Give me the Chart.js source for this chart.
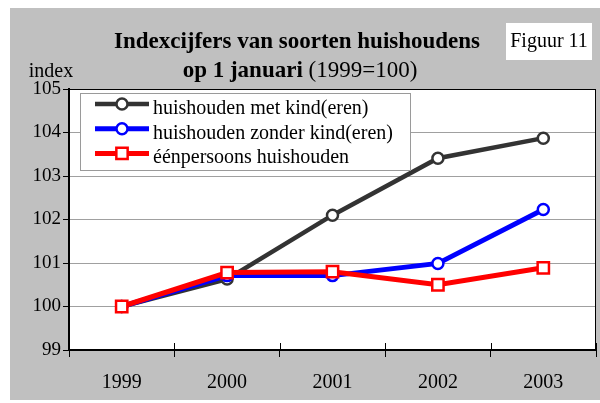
<!DOCTYPE html>
<html>
<head>
<meta charset="utf-8">
<script src="https://cdn.jsdelivr.net/npm/chart.js@4/dist/chart.umd.min.js"></script>
<style>
  html, body { margin: 0; padding: 0; background: #fff; }
  #cvg { display: block; }
</style>
</head>
<body>
<canvas id="cvg" width="600" height="403"></canvas>
<script>
// data
var years = ['1999', '2000', '2001', '2002', '2003'];
var metKind = [100, 100.63, 102.1, 103.41, 103.87];
var zonderKind = [100, 100.71, 100.71, 100.99, 102.23];
var eenPersoons = [100, 100.78, 100.8, 100.5, 100.89];
var seriesNames = ['huishouden met kind(eren)', 'huishouden zonder kind(eren)', 'éénpersoons huishouden'];
var yMin = 99, yMax = 105, yStep = 1;

var serif = '"Liberation Serif", "Times New Roman", serif';

// gray panel, titles, figure label
var backdrop = {
  id: 'backdrop',
  beforeDraw: function(chart) {
    var ctx = chart.ctx, a = chart.chartArea;
    ctx.save();
    ctx.fillStyle = '#fff';
    ctx.fillRect(0, 0, chart.width, chart.height);
    ctx.fillStyle = '#c0c0c0';
    ctx.fillRect(10, 8, 590, 392);
    ctx.fillStyle = '#fff';
    ctx.fillRect(a.left, a.top, a.right - a.left, a.bottom - a.top);

    ctx.fillStyle = '#000';
    ctx.textBaseline = 'alphabetic';
    ctx.textAlign = 'center';
    ctx.font = 'bold 23px ' + serif;
    ctx.fillText('Indexcijfers van soorten huishoudens', 297, 48);

    var p1 = 'op 1 januari', p2 = ' (1999=100)';
    ctx.font = 'bold 23px ' + serif;
    var w1 = ctx.measureText(p1).width;
    ctx.font = '23px ' + serif;
    var w2 = ctx.measureText(p2).width;
    var x0 = 300 - (w1 + w2) / 2;
    ctx.textAlign = 'left';
    ctx.font = 'bold 23px ' + serif;
    ctx.fillText(p1, x0, 77);
    ctx.font = '23px ' + serif;
    ctx.fillText(p2, x0 + w1, 77);

    // Figuur box
    ctx.fillStyle = '#fff';
    ctx.fillRect(506, 23, 86, 37);
    ctx.fillStyle = '#000';
    ctx.font = '20px ' + serif;
    ctx.textAlign = 'center';
    ctx.fillText('Figuur 11', 549, 47);

    ctx.fillText('index', 51, 77);
    ctx.restore();
  },
  afterDraw: function(chart) {
    var ctx = chart.ctx, a = chart.chartArea, xs = chart.scales.x;
    ctx.save();
    ctx.strokeStyle = '#000';
    ctx.lineWidth = 1;
    ctx.strokeRect(a.left + 0.5, a.top + 0.5, a.right - a.left - 1, a.bottom - a.top);
    // small inner part of the category ticks
    for (var i = 0; i <= years.length; i++) {
      var x = Math.round(xs.getPixelForValue(i - 0.5)) + 0.5;
      ctx.beginPath();
      ctx.moveTo(x, a.bottom);
      ctx.lineTo(x, a.bottom - 7);
      ctx.stroke();
    }
    ctx.restore();
  }
};

// legend box inside the plot
var boxLegend = {
  id: 'boxLegend',
  afterDatasetsDraw: function(chart) {
    var ctx = chart.ctx;
    ctx.save();
    ctx.fillStyle = '#fff';
    ctx.fillRect(80, 93, 330, 77);
    ctx.strokeStyle = '#9a9a9a';
    ctx.lineWidth = 1;
    ctx.strokeRect(80.5, 93.5, 330, 77);
    ctx.font = '20px ' + serif;
    ctx.textBaseline = 'alphabetic';
    ctx.textAlign = 'left';
    chart.data.datasets.forEach(function(ds, i) {
      var base = 114 + i * 24.7;
      var ly = base - 10;
      ctx.strokeStyle = ds.borderColor;
      ctx.lineWidth = ds.borderWidth;
      ctx.beginPath();
      ctx.moveTo(95, ly);
      ctx.lineTo(149, ly);
      ctx.stroke();
      ctx.fillStyle = '#fff';
      ctx.lineWidth = ds.pointBorderWidth;
      ctx.beginPath();
      if (ds.pointStyle === 'rect') {
        var s = ds.pointRadius * Math.SQRT1_2;
        ctx.rect(122 - s, ly - s, 2 * s, 2 * s);
      } else {
        ctx.arc(122, ly, ds.pointRadius, 0, Math.PI * 2);
      }
      ctx.fill();
      ctx.stroke();
      ctx.fillStyle = '#000';
      ctx.fillText(ds.label, 153, base);
    });
    ctx.restore();
  }
};

var ctx = document.getElementById('cvg').getContext('2d');
var myChart = new Chart(ctx, {
  type: 'line',
  data: {
    labels: years,
    datasets: [
      {
        label: seriesNames[0], data: metKind, order: 2,
        borderColor: '#333333', borderWidth: 4.5,
        pointStyle: 'circle', pointRadius: 5.5, pointBorderWidth: 2.5,
        pointBackgroundColor: '#fff', pointBorderColor: '#333333'
      },
      {
        label: seriesNames[1], data: zonderKind, order: 1,
        borderColor: '#0000ff', borderWidth: 5,
        pointStyle: 'circle', pointRadius: 5.5, pointBorderWidth: 2.5,
        pointBackgroundColor: '#fff', pointBorderColor: '#0000ff'
      },
      {
        label: seriesNames[2], data: eenPersoons, order: 0,
        borderColor: '#ff0000', borderWidth: 5,
        pointStyle: 'rect', pointRadius: 8, pointBorderWidth: 2.5,
        pointBackgroundColor: '#fff', pointBorderColor: '#ff0000'
      }
    ]
  },
  options: {
    responsive: false,
    animation: false,
    devicePixelRatio: 1,
    layout: { autoPadding: false, padding: { left: 0, top: 89, right: 4, bottom: 0 } },
    plugins: {
      legend: { display: false },
      title: { display: false },
      tooltip: { enabled: false }
    },
    scales: {
      x: {
        type: 'category',
        offset: true,
        afterFit: function(s) { s.height = 53; },
        grid: { offset: true, drawOnChartArea: false, tickLength: 7, tickColor: '#000', color: '#000' },
        border: { color: '#000', width: 2 },
        ticks: { color: '#000', padding: 14, font: { family: serif, size: 20 } }
      },
      y: {
        min: yMin, max: yMax,
        afterFit: function(s) { s.width = 69; },
        grid: { color: '#a0a0a0', tickColor: '#000', tickLength: 6, lineWidth: 1 },
        border: { color: '#000', width: 2 },
        ticks: { stepSize: yStep, color: '#000', padding: 2, font: { family: serif, size: 19 } }
      }
    }
  },
  plugins: [backdrop, boxLegend]
});
</script>
</body>
</html>
